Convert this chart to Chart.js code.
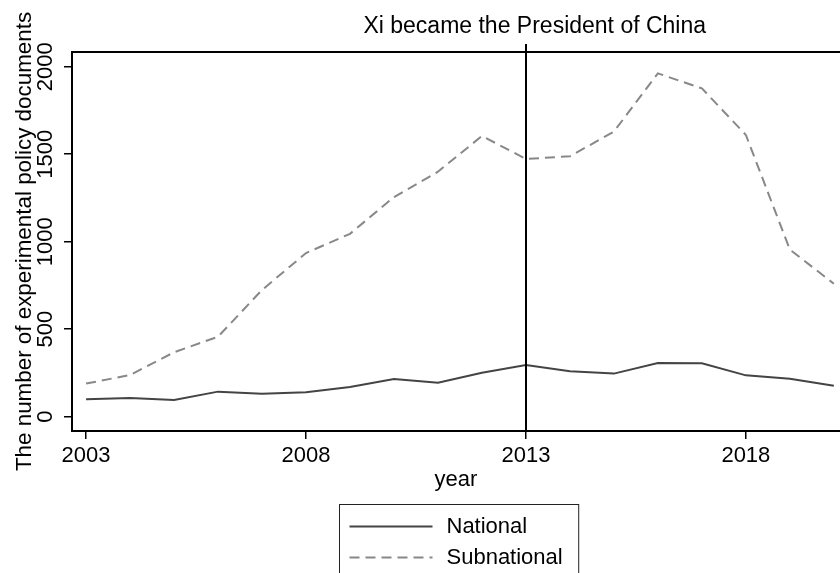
<!DOCTYPE html>
<html>
<head>
<meta charset="utf-8">
<script src="https://cdn.jsdelivr.net/npm/chart.js@4/dist/chart.umd.min.js"></script>
<style>
  html, body { margin: 0; padding: 0; background: #fff; }
  #wrap { width: 840px; height: 573px; }
</style>
</head>
<body>
<div id="wrap"><canvas id="chart"></canvas></div>
<script>
const years = [2003, 2004, 2005, 2006, 2007, 2008, 2009, 2010, 2011, 2012, 2013, 2014, 2015, 2016, 2017, 2018, 2019, 2020];
const national = [99, 107, 95, 143, 131, 139, 170, 215, 194, 251, 295, 259, 246, 307, 305, 236, 217, 177];
const subnational = [189, 238, 368, 457, 724, 935, 1045, 1255, 1400, 1604, 1473, 1488, 1629, 1962, 1876, 1610, 955, 760];
const xTicks = [2003, 2008, 2013, 2018];
const yTicks = [0, 500, 1000, 1500, 2000];
const eventYear = 2013;
const eventText = "Xi became the President of China";

const font = "'Liberation Sans', Arial, Helvetica, sans-serif";

function points(values) {
  return years.map((y, i) => ({ x: y, y: values[i] }));
}

// frame top, vertical event line, its label and the boxed legend
const decorations = {
  id: "decorations",
  afterDraw(chart) {
    const { ctx, chartArea, scales } = chart;
    const x = scales.x;
    ctx.save();
    ctx.strokeStyle = "#000";
    ctx.lineWidth = 2;
    ctx.beginPath();
    ctx.moveTo(chartArea.left - 1, chartArea.top);
    ctx.lineTo(chartArea.right, chartArea.top);
    ctx.stroke();

    const ex = Math.round(x.getPixelForValue(eventYear));
    ctx.beginPath();
    ctx.moveTo(ex, chartArea.top - 8);
    ctx.lineTo(ex, chartArea.bottom);
    ctx.stroke();

    ctx.fillStyle = "#000";
    ctx.font = "23px " + font;
    ctx.textAlign = "center";
    ctx.textBaseline = "middle";
    ctx.fillText(eventText, x.getPixelForValue(eventYear + 0.2), 27);

    // legend
    ctx.font = "22px " + font;
    const sample = 83, gap = 14, padL = 10, padR = 16, rowH = 31;
    const textW = Math.max(...chart.data.datasets.map((d) => ctx.measureText(d.label).width));
    const boxW = padL + sample + gap + textW + padR;
    const boxX = Math.round((chartArea.left + chartArea.right) / 2 - boxW / 2) + 3.5;
    const boxY = x.bottom + 7.5;
    ctx.lineWidth = 1;
    ctx.strokeStyle = "#222";
    ctx.strokeRect(boxX, boxY, boxW, 100);
    ctx.textAlign = "left";
    chart.data.datasets.forEach((d, i) => {
      const cy = boxY + 22 + i * rowH;
      ctx.strokeStyle = d.borderColor;
      ctx.lineWidth = d.borderWidth;
      ctx.setLineDash(d.borderDash || []);
      ctx.beginPath();
      ctx.moveTo(boxX + padL, cy);
      ctx.lineTo(boxX + padL + sample, cy);
      ctx.stroke();
      ctx.setLineDash([]);
      ctx.fillStyle = "#000";
      ctx.fillText(d.label, boxX + padL + sample + gap, cy);
    });
    ctx.restore();
  },
};

new Chart(document.getElementById("chart"), {
  type: "line",
  data: {
    datasets: [
      {
        label: "National",
        data: points(national),
        borderColor: "#444444",
        borderWidth: 2,
        pointRadius: 0,
        tension: 0,
      },
      {
        label: "Subnational",
        data: points(subnational),
        borderColor: "#888888",
        borderWidth: 2,
        borderDash: [10, 6],
        pointRadius: 0,
        tension: 0,
      },
    ],
  },
  options: {
    responsive: true,
    maintainAspectRatio: false,
    animation: false,
    layout: { padding: { top: 52, right: 0, bottom: 76, left: 0 } },
    plugins: {
      legend: { display: false },
      tooltip: { enabled: false },
    },
    scales: {
      x: {
        type: "linear",
        min: 2002.68,
        max: 2020.14,
        afterBuildTicks: (s) => { s.ticks = xTicks.map((v) => ({ value: v })); },
        afterFit: (s) => { s.height = 66; },
        border: { display: true, color: "#000", width: 2 },
        grid: { drawOnChartArea: false, drawTicks: true, tickLength: 8, color: "#000", lineWidth: 1.5 },
        ticks: {
          color: "#000",
          font: { family: font, size: 22 },
          padding: 4,
          maxRotation: 0,
          callback: (v) => String(v),
        },
        title: {
          display: true,
          text: "year",
          color: "#000",
          font: { family: font, size: 22 },
          padding: { top: 0, bottom: 4 },
        },
      },
      y: {
        min: -82,
        max: 2084,
        afterBuildTicks: (s) => { s.ticks = yTicks.map((v) => ({ value: v })); },
        afterFit: (s) => { s.width = 72; },
        border: { display: true, color: "#000", width: 2 },
        grid: { drawOnChartArea: false, drawTicks: true, tickLength: 8, color: "#000", lineWidth: 1.5 },
        ticks: {
          color: "#000",
          font: { family: font, size: 22 },
          minRotation: 90,
          maxRotation: 90,
          crossAlign: "center",
          padding: -6,
          callback: (v) => String(v),
        },
        title: {
          display: true,
          text: "The number of experimental policy documents",
          color: "#000",
          font: { family: font, size: 22.4 },
          padding: { top: 11, bottom: 0 },
        },
      },
    },
  },
  plugins: [decorations],
});
</script>
</body>
</html>
